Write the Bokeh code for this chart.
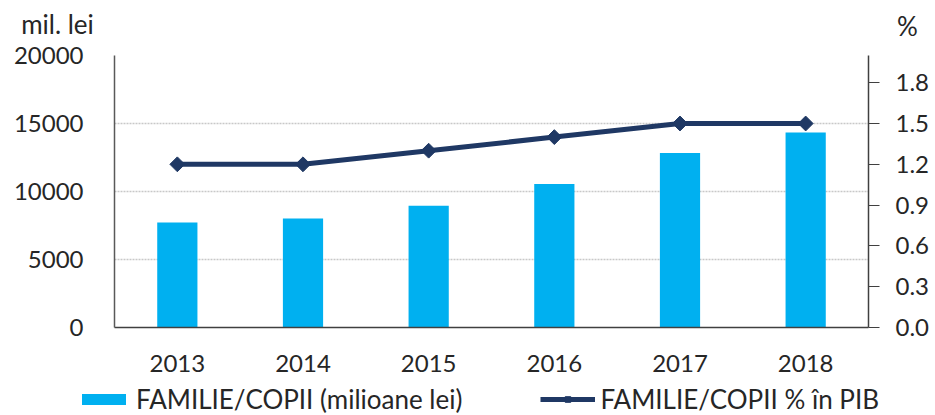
import math
from bokeh.plotting import figure
from bokeh.models import (Range1d, FactorRange, LinearAxis, FixedTicker, Legend,
                          LegendItem, Label, NumeralTickFormatter)
from bokeh.embed import file_html
from bokeh.resources import INLINE

years = ["2013", "2014", "2015", "2016", "2017", "2018"]
spending = [7720, 8010, 8950, 10560, 12840, 14340]   # mil. lei
share_gdp = [1.2, 1.2, 1.3, 1.4, 1.5, 1.5]            # % in PIB
left_ticks = [0, 5000, 10000, 15000, 20000]
right_ticks = [0.0, 0.3, 0.6, 0.9, 1.2, 1.5, 1.8]
unit_left = "mil. lei"
unit_right = "%"
bar_name = "FAMILIE/COPII (milioane lei)"
line_name = "FAMILIE/COPII % în PIB"

FONT = "Lato"
TXT = "#262626"
BAR = "#00B0F0"
LINE = "#1F3864"
W = 935
TOP_H = 41
BOT_H = 37


def strip(h, x_range, y_range):
    s = figure(width=W, height=h, x_range=x_range, y_range=y_range,
               x_axis_type=None, y_axis_type=None, output_backend="svg",
               toolbar_location=None, min_border=0)
    s.outline_line_color = None
    s.xgrid.visible = False
    s.ygrid.visible = False
    return s


# ---- top strip with the unit captions (data units = pixels)
top = strip(TOP_H, Range1d(0, W), Range1d(0, TOP_H))
top.add_layout(Label(x=57, y=18, text=unit_left, text_align="center",
                     text_baseline="alphabetic", text_font=FONT,
                     text_font_size="26px", text_color=TXT))
top.add_layout(Label(x=907, y=16, text=unit_right, text_align="center",
                     text_baseline="alphabetic", text_font=FONT,
                     text_font_size="26px", text_color=TXT))

# ---- main chart
p = figure(x_range=years, y_range=Range1d(0, 20000),
           frame_width=754, frame_height=272,
           output_backend="svg", toolbar_location=None,
           min_border_left=114, min_border_right=67, min_border_top=14,
           min_border_bottom=51)
p.outline_line_color = None
p.extra_y_ranges = {"pct": Range1d(0, 2.0)}

p.xgrid.grid_line_color = None
p.ygrid.ticker = FixedTicker(ticks=left_ticks)
p.ygrid.grid_line_color = "#c8c8c8"
p.ygrid.grid_line_dash = "2 1"
p.ygrid.grid_line_width = 1.5

p.vbar(x=years, top=spending, width=0.32, color=BAR, line_color=None)
p.line(x=years, y=share_gdp, y_range_name="pct", color=LINE, line_width=5)
p.scatter(x=years, y=share_gdp, y_range_name="pct", marker="square",
          size=10.5, angle=math.pi / 4, color=LINE)

la = p.yaxis[0]
la.ticker = FixedTicker(ticks=left_ticks)
la.major_tick_in = 0
la.major_tick_out = 0
la.minor_tick_line_color = None
la.axis_line_color = "#595959"
la.axis_line_width = 1.5
la.major_label_text_font = FONT
la.major_label_text_font_size = "24px"
la.major_label_text_color = TXT
la.major_label_standoff = 31

xa = p.xaxis[0]
xa.major_tick_line_color = None
xa.minor_tick_line_color = None
xa.axis_line_color = "#404040"
xa.axis_line_width = 1.5
xa.major_label_text_font = FONT
xa.major_label_text_font_size = "24px"
xa.major_label_text_color = TXT
xa.major_label_standoff = 21

ra = LinearAxis(y_range_name="pct", ticker=FixedTicker(ticks=right_ticks),
                formatter=NumeralTickFormatter(format="0.0"))
ra.major_tick_in = 0
ra.major_tick_out = 11
ra.major_tick_line_color = "#404040"
ra.minor_tick_line_color = None
ra.axis_line_color = "#404040"
ra.axis_line_width = 1.5
ra.major_label_text_font = FONT
ra.major_label_text_font_size = "24px"
ra.major_label_text_color = TXT
ra.major_label_standoff = 16
p.add_layout(ra, "right")

# ---- bottom strip with the legend; its series lie wholly below the strip's
# visible y window, so only their legend swatches show
hidden = Range1d(max(spending) * 2, max(spending) * 3)
bot = strip(BOT_H, FactorRange(*years), hidden)
lb = bot.vbar(x=years, top=spending, width=0.32, color=BAR, line_color=None)
ll = bot.line(x=years, y=share_gdp, color=LINE, line_width=5)
lm = bot.scatter(x=years, y=share_gdp, marker="square", size=10.5,
                 angle=math.pi / 4, color=LINE)
legend = Legend(items=[
    LegendItem(label=bar_name, renderers=[lb]),
    LegendItem(label=line_name, renderers=[ll, lm]),
], orientation="horizontal", location=(76, 0))
legend.glyph_width = 55
legend.glyph_height = 14
legend.label_text_font = FONT
legend.label_text_font_size = "26px"
legend.label_text_color = TXT
legend.label_standoff = 5
legend.spacing = 78
legend.padding = 0
legend.margin = 0
legend.border_line_color = None
legend.background_fill_alpha = 0
bot.add_layout(legend, "center")

open("out.html", "w").write(file_html([top, p, bot], INLINE))
